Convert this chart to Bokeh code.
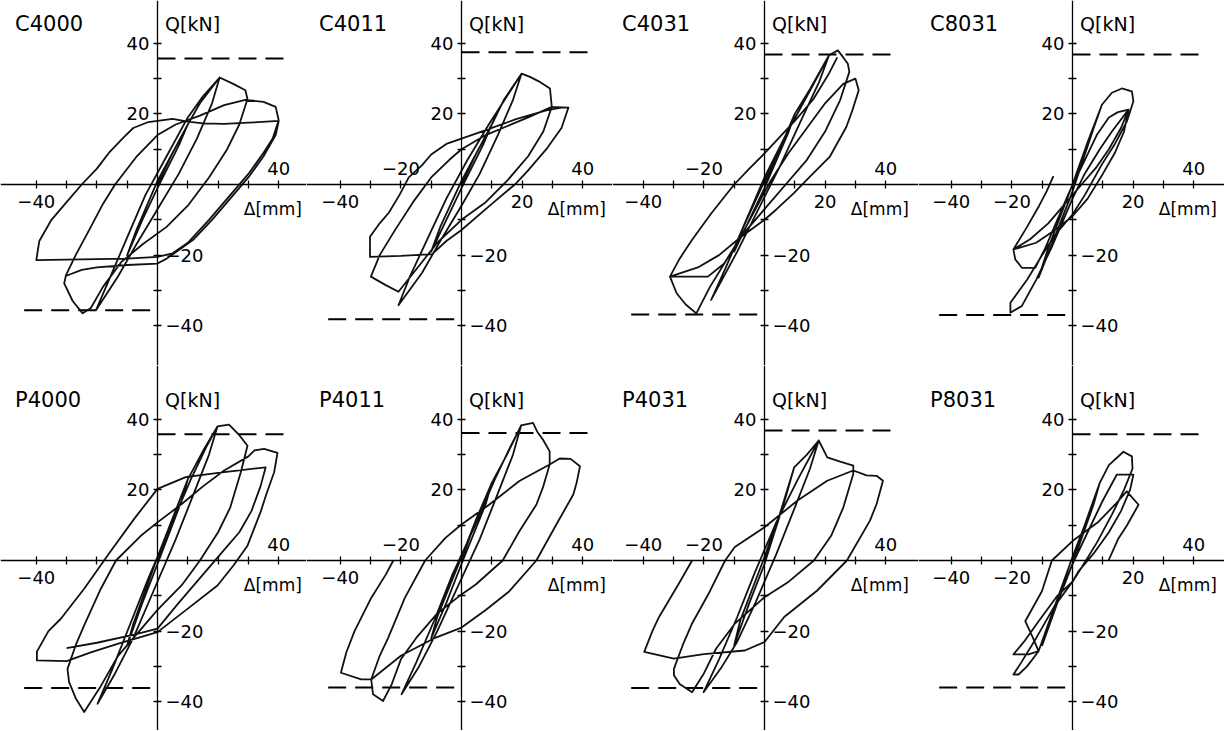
from bokeh.plotting import figure
from bokeh.layouts import gridplot
from bokeh.models import LinearAxis, FixedTicker, Label, Range1d
from bokeh.embed import file_html
from bokeh.resources import INLINE

panel_names = ["C4000", "C4011", "C4031", "C8031", "P4000", "P4011", "P4031", "P8031"]

# computed strength levels (dashed lines), kN
q_cap_pos = [35.7, 37.5, 36.8, 36.8, 35.8, 36.1, 36.8, 35.8]
q_cap_neg = [-35.6, -38.2, -36.8, -37.0, -36.1, -36.0, -36.1, -36.0]

tick_values = [-40, -30, -20, -10, 10, 20, 30, 40]
x_labels_above = [[40], [-20, 40], [-20, 40], [40], [40], [-20, 40], [-40, -20, 40], [40]]
x_labels_below = [[-40], [-40, 20], [-40, 20], [-40, -20, 20], [-40], [-40], [], [-40, -20, 20]]
y_labels_left = [20, 40]
y_labels_right = [-40, -20]

# hysteresis traces: (displacement mm, load kN)
c4000 = [(0,0),(5,9),(10,17),(7,11),(0,-1),(-5,-10),(-10,-20),(-7,-13),(0,1),(5,9),(10,17),
 (14,23),(20.5,30.3),(18,23),(13,13),(7,3),(0,-7),(-7,-17),(-13,-26),(-20.3,-35.6),(-16,-27),(-10,-15),(-4,-3),(3,8),(10,19),(15,25),(20.5,30.3),
 (25,28.5),(29,26.7),(29.7,24.2),(27,17),(23,10),(17,2),(10,-6),(3,-12),(-5,-17),(-12,-22),(-18,-29),(-22,-35),(-24.7,-36.5),(-28,-33),(-30.8,-28),(-30.2,-25.7),
 (-27,-20),(-22,-12),(-18,-5.5),(-14,0),(-7,7.8),(0,14),(6,17),(14,19.5),(22,22.5),(29,24),(35,23.4),(39,22),(40,18.2),
 (38,13),(35,9),(30,3),(24,-3),(17,-10),(10,-16.5),(5,-19.5),(0,-20.5),(-10,-21),(-25,-21.2),(-40,-21.4),
 (-39,-16),(-35,-10),(-30,-5),(-25,0),(-20,4.5),(-16,9),(-11,13.5),(-8,16),(-3,17.7),(0,18),(5,18.6),(10,17.8),(15,17.3),(22,17.2),(30,17.5),(40,18),
 (39,14),(35,8),(30,2),(24,-4),(18,-10),(12,-15.5),(8,-18),(3,-21),(0,-22.4),(-10,-22.8),(-20,-23.5),(-25,-24.2),(-30.5,-26)]

c4011 = [(0,0),(5,9),(10,17),(7,11),(0,-1),(-5,-10),(-10,-19),(-7,-12),(0,1),(5,9),(10,17),
 (14,24),(19.8,31.4),(17,24),(12,14),(6,3),(0,-6),(-7,-16),(-13,-25),(-20.8,-34.2),(-17,-26),(-11,-15),(-5,-4),(2,7),(9,17),(15,25),(19.8,31.4),
 (22.6,30.5),(26,29),(29.2,27.2),(29.8,22),(27,15),(22,8),(15,1),(8,-5),(0,-10),(-8,-16.5),(-14,-23),(-20.8,-30.4),(-25,-28.5),(-29.9,-26.1),
 (-27,-20),(-22,-13),(-16,-5),(-10,2),(-4,7),(0,10),(8,14),(15,16.5),(22,19),(29.8,22),(35.3,21.8),
 (33,16),(28,10),(22,4),(18,0.3),(10,-5.5),(0,-12.9),(-5,-16),(-9.7,-19.7),(-20,-20.2),(-30.2,-20.5),(-30.2,-14.8),
 (-27,-11),(-24,-8),(-20.5,-3),(-17.4,2),(-13,5.5),(-10,8.5),(-5,11.5),(0,13),(8,15.4),(18,18.5),(28,21),(33,21.8)]

c4031 = [(0,0),(5,10),(10,20),(8,15),(0,-1),(-5,-10),(-10,-19),(-8,-14),(0,1),(5,10),(10,20),
 (15,27),(21.3,36.6),(18,29),(12,18),(5,5),(-2,-7),(-9,-19),(-17.6,-32.7),(-13,-24),(-7,-12),(0,2),(7,14),(14,25),(21.3,36.6),
 (24.2,38),(26,36),(27.5,34.2),(28,31.9),(25,24),(20,15),(14,7),(7,0),(0,-7),(-7,-14),(-13,-22),(-18,-29),(-22.5,-36.5),(-26,-34),(-29,-30.8),(-31.2,-26.1),
 (-25,-26.1),(-18.7,-26.1),(-13.3,-22.4),(-8,-15),(-3,-7),(2,1),(8,9),(14,16),(20,23),(26,28.5),(30,30),(31.1,26.7),
 (29,21),(27,16.3),(21.5,7.8),(15,2.2),(9.6,-2.5),(4,-7),(0,-10),(-8,-15),(-15,-20),(-22,-23.5),(-31.2,-26.1),
 (-28,-21),(-24,-15.8),(-17.6,-8.2),(-10,0),(-5,4.5),(0,8.8),(4,12.5),(10,18),(16,24),(21,31),(24,36)]

c8031 = [(0,0),(4,9),(9.7,22.6),(7,16),(0,-2),(-5,-13),(-11.2,-26.4),(-8,-18),(0,0),(5,12),(9.7,22.6),
 (13,26),(16.3,27.2),(19.6,26.4),(20.1,23.6),(18,18),(14,11.5),(9.7,5.7),(4.2,-2.8),(0,-8.5),(-5.7,-14.2),(-10,-20),(-15,-27),(-20.5,-33.5),(-20.5,-36.3),(-16.7,-34.4),
 (-12,-27),(-7,-18),(-3,-10),(0,-4),(4,3),(9,10),(13,15),(18.5,21.2),(17,15),(14,9),(10,3),(5,-4),(0,-9),(-6,-13),(-12,-16.5),(-19.5,-18.4),(-18.9,-21.2),(-16.7,-23.6),(-12.3,-23.6),
 (-9,-18),(-5,-10),(-1,-2),(3,5),(8,14),(12,19),(15,20.5),(18.5,21.2),(16,16),(12,10),(8,5),(3,0),(-2,-5),(-8,-11),(-14,-15.5),(-19.5,-18.4),
 (-15,-12),(-11,-6),(-8.5,-1.9),(-6.3,2.4)]

p4000 = [(0,0),(5,12),(10,23),(8,17),(0,-1),(-5,-12),(-10,-24),(-8,-18),(0,1),(5,12),(10,23),
 (15,31),(19.8,38),(17,30),(12,19),(6,6),(-1,-8),(-8,-22),(-14,-32),(-19.8,-40.6),(-15,-31),(-9,-18),(-3,-5),(4,9),(11,23),(16,32),(19.8,38),
 (23.6,38.5),(27,35.5),(29.7,32.5),(27.5,25),(24,15),(20,8),(14,0),(8,-7),(0,-14),(-7,-21),(-13,-27),(-19,-36),(-24.2,-42.9),(-27,-39),(-29.2,-34.4),(-29.7,-30.7),
 (-27,-24),(-24.2,-18.4),(-18.7,-8),(-13.7,0),(-5.5,7),(0,10.8),(8,16),(15,21),(22,25.5),(30,29.5),(32,31.2),(35.2,31.6),(39.6,30.5),
 (38.5,25),(36,19),(34,13.7),(29.7,4.2),(25,-1.5),(19.8,-7.1),(9.9,-13.7),(0,-20.3),(-13.2,-23.6),(-22,-26),(-30,-28.5),(-39.8,-28.3),(-39.8,-25.8),
 (-36,-20),(-31.9,-16.5),(-24.2,-8),(-16,2),(-7.7,11.8),(0,20.3),(9.3,23.6),(20,24.8),(35.7,26.4),
 (34,21),(31,14),(27,8),(21,2),(14,-5),(7,-12),(0,-19.3),(-7.7,-21),(-20,-23.3),(-30,-24.8)]

p4011 = [(0,0),(5,12),(10,22),(8,16),(0,-1),(-5,-12),(-10,-22),(-8,-16),(0,1),(5,12),(10,22),
 (15,30),(19.7,38.3),(17,30),(12,19),(6,6),(-1,-7),(-8,-20),(-14,-30),(-19.8,-37.9),(-15,-29),(-9,-17),(-3,-4),(4,9),(11,23),(16,32),(19.7,38.3),
 (23.6,39),(25,36.5),(26.9,34.2),(29.1,30.9),(29.1,27.2),(27,21),(24.7,15.8),(19.1,8.3),(13.6,0),(4.7,-6.8),(0,-9.6),(-8,-15),(-15,-22),(-20,-28),(-23,-35),(-25.9,-39.8),(-29.2,-37.9),(-29.8,-33.7),
 (-27,-27),(-24.2,-21.9),(-18.7,-10.6),(-12,0),(-5.3,6.4),(0,10.2),(9.1,15.8),(19.1,22.5),(29.1,27.2),(32.4,28.9),(36,28.8),(39.1,26.7),
 (38,22),(36.9,18.7),(31.3,10.2),(24.7,0),(15.8,-8.7),(8,-14),(0,-19),(-8.7,-21.9),(-20,-27),(-29.8,-33.7),(-33.1,-33.7),(-39.8,-31.8),
 (-38,-26),(-35.3,-20),(-29.8,-10.6),(-25,-4),(-22.5,0)]

p4031 = [(0,0),(5,13),(9.8,26.4),(7,18),(0,-1),(-5,-12),(-10,-24),(-8,-17),(0,1),(5,13),(9.8,26.4),
 (14,30),(17.9,34),(15,26),(10,15),(4,2),(-3,-12),(-9,-23),(-14,-30),(-20.1,-37.3),(-15,-28),(-9,-16),(-3,-3),(4,11),(11,23),(17.9,34),
 (19.6,31.1),(20.7,29.2),(25,28),(29.3,26.9),(29.3,24.5),(26,15),(22,7),(16.3,0),(8,-6),(0,-10.4),(-9.8,-17.9),(-16,-25),(-20,-32),(-23.9,-37.3),(-28,-35),(-29.9,-32.5),(-29.9,-30.7),
 (-27,-24),(-24,-18),(-18.5,-9.5),(-13,0),(-9.8,3.8),(0,9.4),(10.9,17),(20.7,22.6),(29.3,25.5),(33.7,24.1),(37,24),(39.1,22.6),
 (37,16),(34.8,11.3),(27.2,0),(17.4,-8.5),(6.5,-16),(0,-23.1),(-6.5,-25.5),(-20,-26.5),(-29.9,-27.8),(-39.7,-25.9),
 (-37,-20),(-34.8,-16),(-28.3,-6.6),(-23.9,0)]

p8031 = [(0,0),(4,10),(9,22),(7,16),(0,-1),(-5,-12),(-10,-24),(-8,-18),(0,1),(4,10),(9,22),
 (12,27),(16.8,30.8),(19.6,29.5),(19.8,26),(17,20),(13,13),(8,5),(3,-2),(0,-6),(-6,-13),(-12,-22),(-17,-29),(-19.5,-32.3),(-17.8,-32.3),(-15,-30),(-11.2,-25.7),
 (-8,-18),(-4,-9),(0,-1),(5,8),(10,17),(14.6,24.3),(20.1,24.3),(19,20),(16,14),(12,8),(7,2),(2,-3),(0,-6),(-5,-10),(-11,-17),(-16,-23),(-19.5,-26.6),(-14.5,-26.6),(-11.2,-25.7),
 (-13,-22),(-15.6,-17.2),(-10.1,-8.7),(-6.8,0),(0,5.5),(8.6,11),(14,15.8),(17.9,19.6),(21.8,15.8),(18,10),(15,6),(11.9,0)]

traces = [c4000, c4011, c4031, c8031, p4000, p4011, p4031, p8031]

FONT = "DejaVu Sans"
PX_X = 3.03   # px per mm
PX_Y = 3.53   # px per kN
W, H = 306, 365
origins_x = [157, 155, 152, 154]   # px from figure left to the Q axis
origins_y = [184, 195]             # px from figure top to the Δ axis


def fmt(v):
    return ("\u2212" if v < 0 else "") + str(abs(v))


def make_panel(i):
    col, rowi = i % 4, i // 4
    x0 = -origins_x[col] / PX_X
    x1 = (W - origins_x[col]) / PX_X
    y1 = origins_y[rowi] / PX_Y
    y0 = -(H - origins_y[rowi]) / PX_Y
    p = figure(width=W, height=H, x_range=Range1d(x0, x1), y_range=Range1d(y0, y1),
               output_backend="svg", toolbar_location=None,
               x_axis_location=None, y_axis_location=None, min_border=0)
    p.grid.grid_line_color = None
    p.outline_line_color = None
    p.background_fill_color = "white"

    def axis(side, shown, draw_line):
        ax = LinearAxis(fixed_location=0, ticker=FixedTicker(ticks=tick_values),
                        major_label_overrides={t: (fmt(t) if t in shown else "") for t in tick_values})
        ax.major_label_text_font = FONT
        ax.major_label_text_font_size = "18px"
        ax.major_label_text_color = "black"
        ax.minor_tick_line_color = None
        ax.major_tick_in = 4
        ax.major_tick_out = 4
        ax.major_label_standoff = 4 if side in ("left", "right") else 6
        if draw_line:
            ax.axis_line_color = "black"
            ax.axis_line_width = 1.3
            ax.major_tick_line_color = "black"
            ax.major_tick_line_width = 1.3
        else:
            ax.axis_line_color = None
            ax.major_tick_line_color = None
        p.add_layout(ax, side)

    axis("below", x_labels_below[i], True)
    axis("above", x_labels_above[i], False)
    axis("left", y_labels_left, True)
    axis("right", y_labels_right, False)

    p.line([0, 44], [q_cap_pos[i], q_cap_pos[i]], line_color="black", line_width=2, line_dash="18 9")
    p.line([-44, 0], [q_cap_neg[i], q_cap_neg[i]], line_color="black", line_width=2, line_dash="18 9")

    pts = traces[i]
    p.line([a for a, b in pts], [b for a, b in pts], line_color="#111111", line_width=1.8,
           line_join="round")

    p.add_layout(Label(x=-47, y=45.5, text=panel_names[i], text_font=FONT, text_font_size="21px",
                       text_baseline="middle", text_align="left", text_color="black"))
    p.add_layout(Label(x=2.5, y=45.5, text="Q[kN]", text_font=FONT, text_font_size="19px",
                       text_baseline="middle", text_align="left", text_color="black"))
    p.add_layout(Label(x=28.5, y=-7, text="\u0394[mm]", text_font=FONT, text_font_size="17px",
                       text_baseline="middle", text_align="left", text_color="black"))
    return p


panels = [make_panel(i) for i in range(8)]
grid = gridplot([panels[:4], panels[4:]], toolbar_location=None)

open("out.html", "w").write(file_html(grid, INLINE))
